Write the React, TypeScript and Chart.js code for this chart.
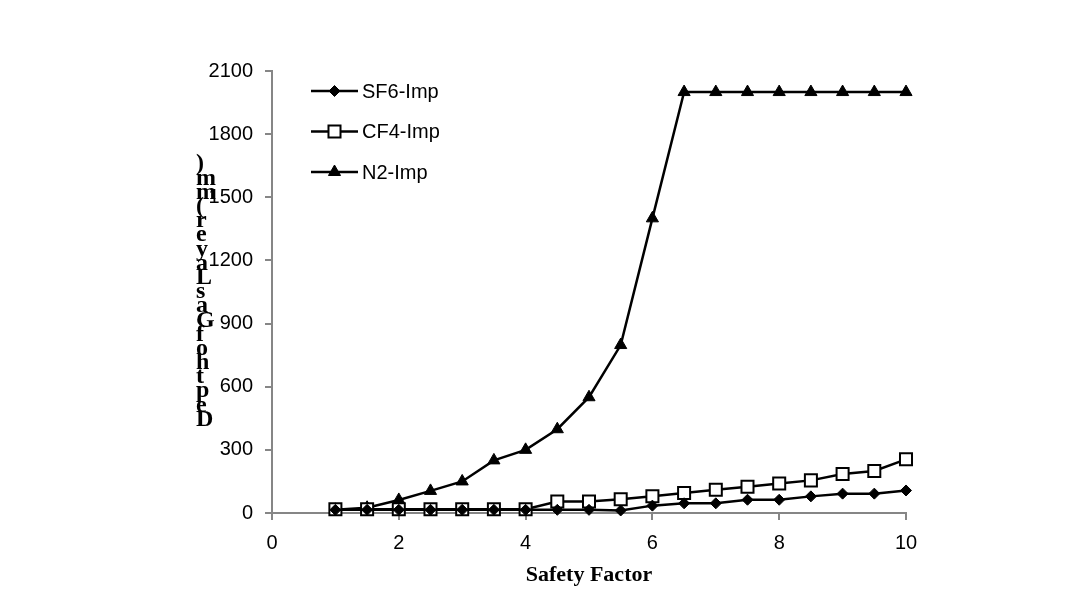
import React, { useEffect, useRef } from "react";
import { Chart, registerables } from "chart.js";
import { drawPoint } from "chart.js/helpers";

Chart.register(...registerables);

const safetyFactor = [1, 1.5, 2, 2.5, 3, 3.5, 4, 4.5, 5, 5.5, 6, 6.5, 7, 7.5, 8, 8.5, 9, 9.5, 10];
const sf6Imp = [15, 15, 15, 15, 15, 15, 15, 15, 15, 12, 35, 46, 46, 63, 63, 79, 92, 92, 107];
const cf4Imp = [18, 18, 18, 18, 18, 18, 18, 55, 55, 65, 80, 95, 110, 125, 140, 155, 185, 200, 255];
const n2Imp = [15, 25, 62, 105, 150, 250, 300, 398, 550, 798, 1400, 2000, 2000, 2000, 2000, 2000, 2000, 2000, 2000];
const seriesNames = ["SF6-Imp", "CF4-Imp", "N2-Imp"];
const xTitle = "Safety Factor";
const yTitle = "Depth of Gas Layer (mm)";
const xTicks = { min: 0, max: 10, step: 2 };
const yTicks = { min: 0, max: 2100, step: 300 };

const AXIS_GREY = "#868686";
const TICK_FONT = { family: "'Liberation Sans', Arial, sans-serif", size: 20 };

const legendPlugin = {
  id: "stackedLegend",
  afterDraw(chart: any) {
    const { ctx, chartArea } = chart;
    chart.data.datasets.forEach((ds: any, i: number) => {
      const y = chartArea.top + 20 + i * 40.5;
      const x0 = chartArea.left + 39;
      const x1 = x0 + 47;
      ctx.save();
      ctx.strokeStyle = ds.borderColor;
      ctx.lineWidth = ds.borderWidth;
      ctx.beginPath();
      ctx.moveTo(x0, y);
      ctx.lineTo(x1, y);
      ctx.stroke();
      ctx.fillStyle = ds.pointBackgroundColor;
      ctx.strokeStyle = ds.pointBorderColor;
      ctx.lineWidth = ds.pointBorderWidth;
      drawPoint(ctx, { pointStyle: ds.pointStyle, radius: ds.pointRadius, rotation: 0, borderWidth: ds.pointBorderWidth }, (x0 + x1) / 2, y);
      ctx.fillStyle = "#000";
      ctx.font = "20px 'Liberation Sans', Arial, sans-serif";
      ctx.textBaseline = "middle";
      ctx.textAlign = "left";
      ctx.fillText(ds.label, x1 + 4, y + 1);
      ctx.restore();
    });
  },
};

function toPoints(vals: number[]) {
  return safetyFactor.map((x, i) => ({ x, y: vals[i] }));
}

export default function App() {
  const canvasRef = useRef<HTMLCanvasElement | null>(null);

  useEffect(() => {
    document.body.style.margin = "0";
    const canvas = canvasRef.current;
    if (!canvas) return;
    const common = {
      borderColor: "#000",
      borderWidth: 2.5,
      pointBorderColor: "#000",
      tension: 0,
      fill: false,
      clip: false,
    };
    const chart = new Chart(canvas, {
      type: "line",
      data: {
        datasets: [
          {
            ...common,
            label: seriesNames[0],
            data: toPoints(sf6Imp),
            pointStyle: "rectRot",
            pointRadius: 5.5,
            pointBackgroundColor: "#000",
            pointBorderWidth: 1,
          },
          {
            ...common,
            label: seriesNames[1],
            data: toPoints(cf4Imp),
            pointStyle: "rect",
            pointRadius: 8.5,
            pointBackgroundColor: "#fff",
            pointBorderWidth: 2,
          },
          {
            ...common,
            label: seriesNames[2],
            data: toPoints(n2Imp),
            pointStyle: "triangle",
            pointRadius: 7,
            pointBackgroundColor: "#000",
            pointBorderWidth: 1,
          },
        ] as any,
      },
      options: {
        animation: false,
        responsive: false,
        maintainAspectRatio: false,
        layout: { padding: { left: 0, right: 175, top: 71, bottom: 0 } },
        plugins: {
          legend: { display: false },
          tooltip: { enabled: false },
        },
        scales: {
          x: {
            type: "linear",
            min: xTicks.min,
            max: xTicks.max,
            ticks: {
              stepSize: xTicks.step,
              color: "#000",
              font: TICK_FONT,
              padding: 11,
              maxRotation: 0,
              callback: (v: any) => String(v),
            },
            grid: { drawOnChartArea: false, drawTicks: true, tickLength: 7, color: AXIS_GREY, lineWidth: 2 },
            border: { color: AXIS_GREY, width: 2 },
            title: {
              display: true,
              text: xTitle,
              color: "#000",
              font: { family: "'Liberation Serif', 'Times New Roman', serif", size: 22, weight: "bold" },
              padding: { top: 0, bottom: 24 },
            },
            afterFit(scale: any) {
              scale.height = 100;
            },
          },
          y: {
            type: "linear",
            min: yTicks.min,
            max: yTicks.max,
            ticks: {
              stepSize: yTicks.step,
              color: "#000",
              font: TICK_FONT,
              padding: 12,
              callback: (v: any) => String(v),
            },
            grid: { drawOnChartArea: false, drawTicks: true, tickLength: 7, color: AXIS_GREY, lineWidth: 2 },
            border: { color: AXIS_GREY, width: 2 },
            afterFit(scale: any) {
              scale.width = 272;
            },
          },
        },
      } as any,
      plugins: [legendPlugin],
    });
    return () => chart.destroy();
  }, []);

  const chars = Array.from(yTitle);

  return (
    <div style={{ position: "fixed", left: 0, top: 0, width: 1081, height: 613, background: "#fff" }}>
      <canvas ref={canvasRef} width={1081} height={613} style={{ display: "block", width: 1081, height: 613 }} />
      <div
        aria-label={yTitle}
        style={{
          position: "absolute",
          left: 196,
          top: 155,
          height: 270,
          display: "flex",
          flexDirection: "column-reverse",
          justifyContent: "flex-start",
          fontFamily: "'Liberation Serif', 'Times New Roman', serif",
          fontWeight: "bold",
          fontSize: 24,
          color: "#000",
        }}
      >
        {chars.map((c, i) => (
          <span key={i} style={{ display: "block", lineHeight: c === " " ? "0px" : "14.2px", height: c === " " ? 0 : 14.2, overflow: "visible", whiteSpace: "pre" }}>
            {c}
          </span>
        ))}
      </div>
    </div>
  );
}
